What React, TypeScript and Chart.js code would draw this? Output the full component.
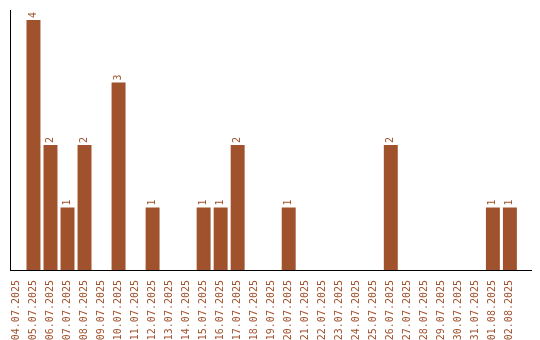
import React, { useEffect, useRef } from "react";
import { Chart, registerables } from "chart.js";

Chart.register(...registerables);

// Daily counts, 04.07.2025 – 02.08.2025
const dates: string[] = [
  "04.07.2025", "05.07.2025", "06.07.2025", "07.07.2025", "08.07.2025",
  "09.07.2025", "10.07.2025", "11.07.2025", "12.07.2025", "13.07.2025",
  "14.07.2025", "15.07.2025", "16.07.2025", "17.07.2025", "18.07.2025",
  "19.07.2025", "20.07.2025", "21.07.2025", "22.07.2025", "23.07.2025",
  "24.07.2025", "25.07.2025", "26.07.2025", "27.07.2025", "28.07.2025",
  "29.07.2025", "30.07.2025", "31.07.2025", "01.08.2025", "02.08.2025",
];

const counts: number[] = [
  0, 4, 2, 1, 2,
  0, 3, 0, 1, 0,
  0, 1, 1, 2, 0,
  0, 1, 0, 0, 0,
  0, 0, 2, 0, 0,
  0, 0, 0, 1, 1,
];

const BROWN = "#A0522D";
const FONT = "'DejaVu Sans Mono', 'Liberation Mono', monospace";

// Writes each non-zero value above its bar, turned to read upwards
const valueLabels = {
  id: "valueLabels",
  afterDatasetsDraw(chart: Chart) {
    const ctx = chart.ctx;
    const meta = chart.getDatasetMeta(0);
    ctx.save();
    ctx.fillStyle = BROWN;
    ctx.font = `10px ${FONT}`;
    ctx.textAlign = "left";
    ctx.textBaseline = "middle";
    meta.data.forEach((bar: any, i: number) => {
      const v = counts[i];
      if (!v) return;
      ctx.save();
      ctx.translate(bar.x, bar.y - 2);
      ctx.rotate(-Math.PI / 2);
      ctx.fillText(String(v), 0, 0);
      ctx.restore();
    });
    ctx.restore();
  },
};

export default function App() {
  const canvasRef = useRef<HTMLCanvasElement | null>(null);

  useEffect(() => {
    document.body.style.margin = "0";
    const canvas = canvasRef.current;
    if (!canvas) return;

    const chart = new Chart(canvas, {
      type: "bar",
      data: {
        datasets: [
          {
            data: counts.map((y, x) => ({ x, y })),
            backgroundColor: BROWN,
            borderWidth: 0,
            categoryPercentage: 1,
            barPercentage: 0.82,
          },
        ],
      },
      options: {
        animation: false,
        responsive: false,
        maintainAspectRatio: false,
        layout: { padding: { top: 10, left: 2, right: 9, bottom: 0 } },
        plugins: {
          legend: { display: false },
          tooltip: { enabled: false },
          title: { display: false },
        },
        scales: {
          x: {
            type: "linear",
            offset: false,
            bounds: "data",
            min: -0.38,
            max: 30.24,
            afterBuildTicks: (scale: any) => {
              scale.ticks = dates.map((_, i) => ({ value: i }));
            },
            afterFit: (scale: any) => {
              scale.paddingLeft = 0;
              scale.paddingRight = 0;
              scale.height = 70;
            },
            grid: { display: false },
            border: { display: true, color: "#000", width: 1 },
            ticks: {
              autoSkip: false,
              minRotation: 90,
              maxRotation: 90,
              padding: 2,
              color: BROWN,
              font: { family: FONT, size: 10 },
              callback: (value: any) => dates[value as number] ?? "",
            },
          },
          y: {
            min: 0,
            max: 4.16,
            grid: { display: false },
            border: { display: true, color: "#000", width: 1 },
            ticks: { display: false },
          },
        },
      },
      plugins: [valueLabels],
    });

    return () => chart.destroy();
  }, []);

  return (
    <div style={{ position: "absolute", left: 0, top: 0, width: 540, height: 340, background: "#fff" }}>
      <canvas ref={canvasRef} width={540} height={340} />
    </div>
  );
}
